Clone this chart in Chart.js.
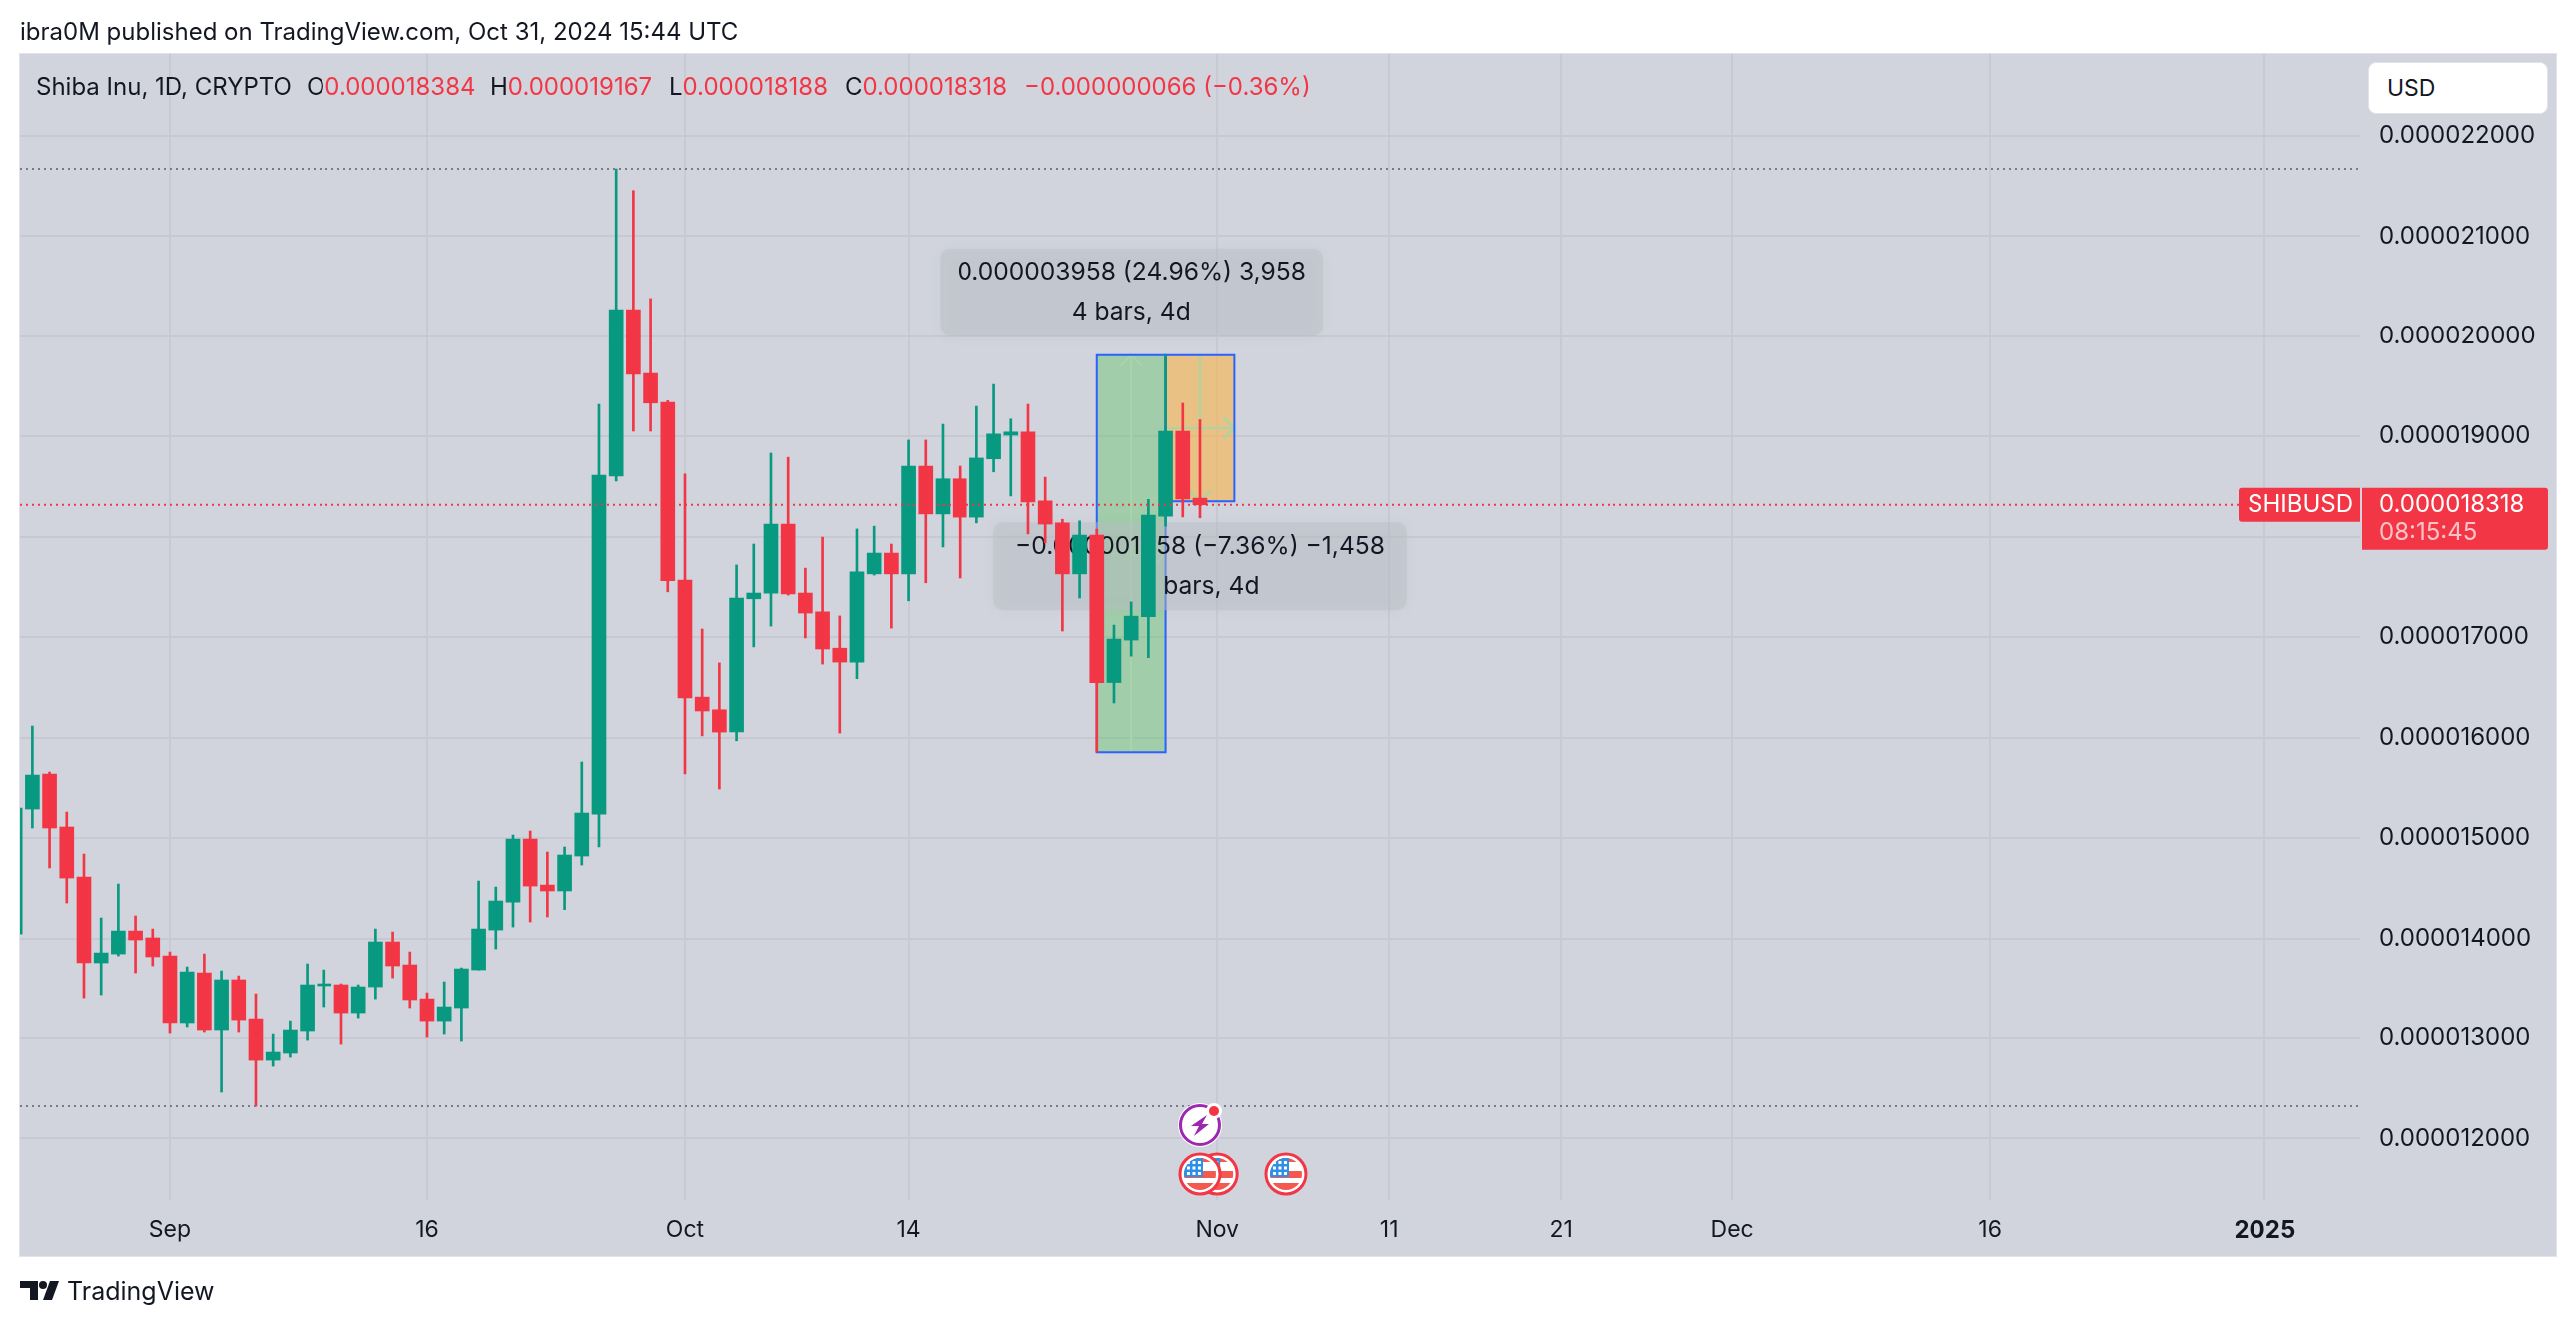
<!DOCTYPE html>
<html>
<head>
<meta charset="utf-8">
<title>Shiba Inu, 1D, CRYPTO</title>
<script src="https://cdn.jsdelivr.net/npm/chart.js@4/dist/chart.umd.js"></script>
<style>
  html, body { margin: 0; padding: 0; background: #fff; }
  body { width: 2580px; height: 1328px; position: relative; overflow: hidden; font-family: Inter, "Liberation Sans", sans-serif; color: #131722; }
  #chart { position: absolute; left: 0; top: 0; }
  .txt { position: absolute; white-space: pre; font-size: 24px; line-height: 30px; }
  .up { color: #f23645; }
  #usd { position: absolute; left: 2372px; top: 62px; width: 180px; height: 52px; background: #fff; border-radius: 8px; box-sizing: border-box; border: 1px solid #e0e3eb; font-size: 23px; line-height: 50px; padding-left: 18px; }
</style>
</head>
<body>
<canvas id="chart" width="2580" height="1328"></canvas>
<div class="txt" style="left:20px;top:17px">ibra0M published on TradingView.com, Oct 31, 2024 15:44 UTC</div>
<div class="txt" style="left:36px;top:72px">Shiba Inu, 1D, CRYPTO</div>
<div class="txt" style="left:307px;top:72px">O<span class="up">0.000018384</span></div>
<div class="txt" style="left:491px;top:72px">H<span class="up">0.000019167</span></div>
<div class="txt" style="left:670px;top:72px">L<span class="up">0.000018188</span></div>
<div class="txt" style="left:846px;top:72px">C<span class="up">0.000018318</span></div>
<div class="txt up" style="left:1026px;top:72px">−0.000000066 (−0.36%)</div>
<div id="usd">USD</div>
<div class="txt" style="left:67px;top:1278px;font-size:25px">TradingView</div>
<script>
// days counted from Sep 1 2024, one entry per candle
const days = [-9,-8,-7,-6,-5,-4,-3,-2,-1,0,1,2,3,4,5,6,7,8,9,10,11,12,13,14,15,16,17,18,19,20,21,22,23,24,25,26,27,28,29,30,31,32,33,34,35,36,37,38,39,40,41,42,43,44,45,46,47,48,49,50,51,52,53,54,55,56,57,58,59,60];
// prices in 1e-9 USD
const opens = [14044,15289,15637,15110,14612,13756,13845,14074,14005,13825,13149,13656,13079,13587,13188,12780,12850,13069,13527,13537,13248,13517,13965,13736,13387,13168,13298,13686,14084,14363,14990,14532,14473,14821,15239,18605,20267,19629,19341,17569,16403,16277,16057,17382,17439,18126,17439,17252,16890,16752,17630,17837,17630,18703,18227,18577,18195,18776,19012,19044,18357,18138,17630,18016,16548,16971,17205,18204,19051,18384];
const closes = [15299,15627,15100,14602,13756,13855,14074,13985,13816,13149,13666,13079,13587,13178,12780,12860,13079,13537,13547,13248,13517,13965,13726,13378,13168,13308,13696,14094,14373,14990,14522,14473,14831,15249,18613,20267,19621,19333,17561,16395,16265,16055,17390,17439,18126,17431,17240,16882,16752,17650,17837,17630,18703,18227,18577,18195,18784,19024,19044,18345,18126,17630,18016,16548,16981,17209,18215,19051,18375,18318];
const highs = [15299,16115,15657,15259,14841,14204,14542,14224,14094,13865,13716,13845,13676,13626,13447,13039,13168,13746,13686,13547,13537,14094,14064,13865,13457,13567,13706,14572,14512,15030,15070,14861,14911,15757,19320,21669,21454,20377,19357,18626,17081,16744,17719,17927,18833,18792,17687,17996,17211,18077,18105,17927,18963,18963,19121,18703,19300,19519,19174,19320,18593,18174,18158,18076,17120,17351,18372,19811,19331,19167];
const lows = [14044,15100,14702,14353,13397,13427,13825,13656,13726,13049,13109,13059,12462,13059,12322,12720,12810,12979,13308,12939,13198,13387,13606,13298,13009,13039,12969,13686,13895,14114,14164,14214,14287,14731,14911,18556,19052,19052,17451,15639,16017,15488,15968,16903,17110,17419,16992,16732,16045,16586,17618,17090,17362,17541,17898,17589,18138,18646,18406,18028,17939,17061,17390,15854,16345,16811,16796,18105,18197,18188];

const priceTicks = [12000,13000,14000,15000,16000,17000,18000,19000,20000,21000,22000];
const timeTicks = [0,15,30,43,61,71,81,91,106,122];
const timeLabels = ['Sep','16','Oct','14','Nov','11','21','Dec','16','2025'];

const lastPrice = 18318;
const rangeHigh = 21669;
const rangeLow = 12322;

// the two date & price range tools: [startDay, endDay, fromPrice, toPrice]
const longRange = [54,58,15854,19811];
const shortRange = [58,62,19811,18353];
const longLabel = ['0.000003958 (24.96%) 3,958','4 bars, 4d'];
const shortLabel = ['−0.000001458 (−7.36%) −1,458','4 bars, 4d'];

const flagDays = [61,60,65];
const boltDay = 60;

const green = '#089981';
const red = '#f23645';
const dark = '#131722';
const font = 'Inter, "Liberation Sans", sans-serif';

const paneBg = {
    id: 'paneBg',
    beforeDraw(chart) {
        const c = chart.ctx;
        c.save();
        c.fillStyle = '#d1d4dc';
        c.fillRect(20, 54, 2540, 1204);
        c.strokeStyle = '#e0e3eb';
        c.lineWidth = 1;
        c.strokeRect(19.5, 53.5, 2541, 1205);
        c.restore();
    }
};

function rangeBox(c, x, y, r, fill) {
    const x0 = x.getPixelForValue(r[0]), x1 = x.getPixelForValue(r[1]);
    const y0 = y.getPixelForValue(r[2]), y1 = y.getPixelForValue(r[3]);
    c.fillStyle = fill;
    c.fillRect(x0, Math.min(y0, y1), x1 - x0, Math.abs(y1 - y0));
    return {x0, x1, y0, y1};
}

function arrows(c, b, down) {
    const mx = (b.x0 + b.x1) / 2, my = (b.y0 + b.y1) / 2;
    c.strokeStyle = '#a6d6a8';
    c.lineWidth = 2;
    c.beginPath();
    c.moveTo(mx, b.y0); c.lineTo(mx, b.y1);
    c.moveTo(mx - 11, b.y1 + (down ? -11 : 11)); c.lineTo(mx, b.y1); c.lineTo(mx + 11, b.y1 + (down ? -11 : 11));
    c.moveTo(b.x0, my); c.lineTo(b.x1, my);
    c.moveTo(b.x1 - 11, my - 11); c.lineTo(b.x1, my); c.lineTo(b.x1 - 11, my + 11);
    c.stroke();
}

function boxBorder(c, b) {
    c.strokeStyle = '#2962ff';
    c.lineWidth = 2;
    c.strokeRect(b.x0, Math.min(b.y0, b.y1), b.x1 - b.x0, Math.abs(b.y1 - b.y0));
}

function rangeLabel(c, lines, cx, top, w, h) {
    c.save();
    c.shadowColor = 'rgba(120,124,135,0.14)';
    c.shadowBlur = 12;
    c.shadowOffsetY = 1;
    c.fillStyle = 'rgba(184,188,198,0.45)';
    c.beginPath();
    c.roundRect(cx - w / 2, top, w, h, 10);
    c.fill();
    c.restore();
    c.fillStyle = dark;
    c.font = '24.6px ' + font;
    c.textAlign = 'center';
    c.textBaseline = 'middle';
    c.fillText(lines[0], cx, top + 24);
    c.fillText(lines[1], cx, top + 64);
}

const tools = {
    id: 'tools',
    beforeDatasetsDraw(chart) {
        const c = chart.ctx, x = chart.scales.x, y = chart.scales.y;
        c.save();
        const b1 = rangeBox(c, x, y, longRange, 'rgba(95,195,100,0.42)');
        const b2 = rangeBox(c, x, y, shortRange, 'rgba(255,177,60,0.55)');
        arrows(c, b1, false);
        arrows(c, b2, true);
        boxBorder(c, b1);
        boxBorder(c, b2);
        rangeLabel(c, longLabel, (b1.x0 + b1.x1) / 2, b1.y1 - 107, 384, 88);
        rangeLabel(c, shortLabel, (b2.x0 + b2.x1) / 2, b2.y1 + 21, 414, 88);
        c.restore();
    }
};

function dotted(c, y, x0, x1, color) {
    c.strokeStyle = color;
    c.lineWidth = 2;
    c.setLineDash([2, 4]);
    c.beginPath();
    c.moveTo(x0, y);
    c.lineTo(x1, y);
    c.stroke();
    c.setLineDash([]);
}

function flag(c, px, py) {
    c.save();
    c.beginPath();
    c.arc(px, py, 20, 0, Math.PI * 2);
    c.fillStyle = '#fff';
    c.fill();
    c.strokeStyle = red;
    c.lineWidth = 3;
    c.stroke();
    c.beginPath();
    c.arc(px, py, 16, 0, Math.PI * 2);
    c.clip();
    c.fillStyle = '#f4594f';
    c.fillRect(px - 17, py - 16, 34, 4);
    c.fillRect(px - 17, py - 3, 34, 7);
    c.fillRect(px - 17, py + 9, 34, 8);
    c.fillStyle = '#2f8fe6';
    c.fillRect(px - 17, py - 17, 20, 20);
    c.fillStyle = '#fff';
    for (let i = 0; i < 3; i++) {
        for (let j = 0; j < 3; j++) {
            c.fillRect(px - 13 + i * 5.5, py - 13 + j * 5.5, 3, 3);
        }
    }
    c.restore();
}

function bolt(c, px, py) {
    c.save();
    c.beginPath();
    c.arc(px, py, 22, 0, Math.PI * 2);
    c.fillStyle = '#fff';
    c.fill();
    c.beginPath();
    c.arc(px, py, 19.5, 0, Math.PI * 2);
    c.strokeStyle = '#9c27b0';
    c.lineWidth = 3;
    c.stroke();
    c.fillStyle = '#9c27b0';
    c.beginPath();
    c.moveTo(px + 7, py - 10); c.lineTo(px - 9, py + 1); c.lineTo(px - 1, py + 1);
    c.lineTo(px - 6, py + 11); c.lineTo(px + 9, py - 1); c.lineTo(px + 2, py - 1);
    c.closePath();
    c.fill();
    c.beginPath();
    c.arc(px + 14, py - 14, 8, 0, Math.PI * 2);
    c.fillStyle = '#fff';
    c.fill();
    c.beginPath();
    c.arc(px + 14, py - 14, 5, 0, Math.PI * 2);
    c.fillStyle = red;
    c.fill();
    c.restore();
}

const overlays = {
    id: 'overlays',
    afterDatasetsDraw(chart) {
        const c = chart.ctx, x = chart.scales.x, y = chart.scales.y, a = chart.chartArea;
        c.save();
        dotted(c, y.getPixelForValue(rangeHigh), a.left, a.right, '#787b86');
        dotted(c, y.getPixelForValue(rangeLow), a.left, a.right, '#787b86');
        dotted(c, y.getPixelForValue(lastPrice), a.left, 2242, red);

        flagDays.forEach(d => flag(c, x.getPixelForValue(d), 1176));
        bolt(c, x.getPixelForValue(boltDay), 1127);

        // last price tags on the scale
        const py = y.getPixelForValue(lastPrice);
        c.fillStyle = red;
        c.beginPath();
        c.roundRect(2242, py - 17, 122, 34, [3, 0, 0, 3]);
        c.roundRect(2366, py - 17, 186, 62, [0, 3, 3, 0]);
        c.fill();
        c.font = '24px ' + font;
        c.textBaseline = 'middle';
        c.textAlign = 'left';
        c.fillStyle = '#fff';
        c.fillText('SHIBUSD', 2251, py);
        c.fillText('0.000018318', 2383, py);
        c.fillStyle = 'rgba(255,255,255,0.7)';
        c.fillText('08:15:45', 2383, py + 28);

        // logo
        c.fillStyle = dark;
        c.fillRect(20, 1283, 18, 7);
        c.fillRect(30, 1283, 8, 19);
        c.beginPath();
        c.arc(43, 1287, 4, 0, Math.PI * 2);
        c.fill();
        c.beginPath();
        c.moveTo(50, 1283); c.lineTo(59, 1283); c.lineTo(52, 1302); c.lineTo(43, 1302);
        c.closePath();
        c.fill();
        c.restore();
    }
};

const candleColors = opens.map((o, i) => closes[i] >= o ? green : red);

Chart.defaults.font.family = font;

new Chart(document.getElementById('chart'), {
    type: 'bar',
    data: {
        labels: days,
        datasets: [
            {
                label: 'wick',
                data: lows.map((l, i) => [l, highs[i]]),
                backgroundColor: candleColors,
                barThickness: 2,
                grouped: false,
                borderWidth: 0
            },
            {
                label: 'body',
                data: opens.map((o, i) => [o, closes[i]]),
                backgroundColor: candleColors,
                barThickness: 14,
                grouped: false,
                borderWidth: 0
            }
        ]
    },
    options: {
        responsive: false,
        animation: false,
        events: [],
        layout: { padding: { left: 20, top: 54, right: 20, bottom: 70 } },
        plugins: { legend: { display: false }, tooltip: { enabled: false } },
        scales: {
            x: {
                type: 'linear',
                offset: false,
                min: -8.72,
                max: 127.56,
                afterBuildTicks: s => { s.ticks = timeTicks.map(v => ({ value: v })); },
                afterFit: s => { s.height = 56; },
                grid: { offset: false, color: '#c7cad3', lineWidth: 2, drawTicks: false },
                border: { display: false },
                ticks: {
                    autoSkip: false,
                    maxRotation: 0,
                    padding: 16,
                    color: dark,
                    font: ctx => (ctx.tick && ctx.tick.value === 122 ? { size: 24, weight: 'bold' } : { size: 23 }),
                    callback: (v, i) => timeLabels[i]
                }
            },
            y: {
                position: 'right',
                min: 11387,
                max: 22815,
                afterBuildTicks: s => { s.ticks = priceTicks.map(v => ({ value: v })); },
                afterFit: s => { s.width = 196; },
                grid: { color: '#c6c9d2', lineWidth: 2, drawTicks: false },
                border: { display: false },
                ticks: {
                    padding: 19,
                    color: dark,
                    font: { size: 24 },
                    crossAlign: 'near',
                    callback: v => (v / 1e9).toFixed(9)
                }
            }
        }
    },
    plugins: [paneBg, tools, overlays]
});
</script>
</body>
</html>
